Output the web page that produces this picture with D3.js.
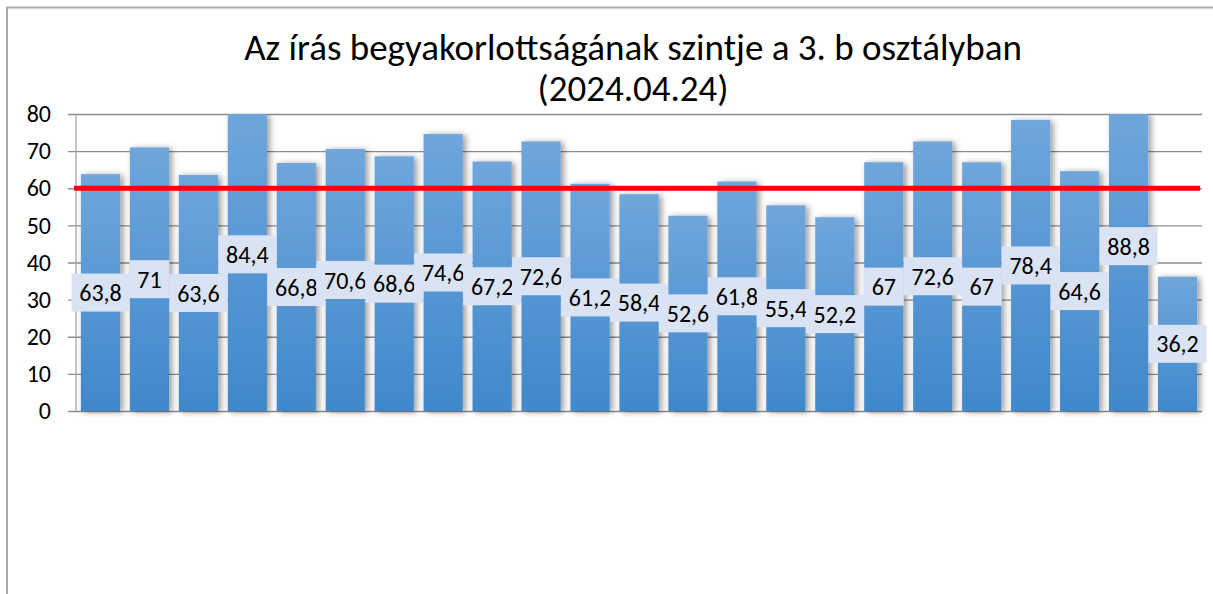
<!DOCTYPE html>
<html lang="hu">
<head>
<meta charset="UTF-8">
<title>Az írás begyakorlottságának szintje</title>
<style>
    body { margin: 0; background: #fff; font-family: Carlito, "Open Sans", "Liberation Sans", sans-serif; }
    svg { display: block; }
</style>
<script src="https://d3js.org/d3.v7.min.js"></script>
</head>
<body>
<svg width="1213" height="594"></svg>
<script>
    const students = d3.range(1, 24).map(String);
    const scores = [63.8, 71, 63.6, 84.4, 66.8, 70.6, 68.6, 74.6, 67.2, 72.6, 61.2, 58.4,
                    52.6, 61.8, 55.4, 52.2, 67, 72.6, 67, 78.4, 64.6, 88.8, 36.2];
    const yTicks = [0, 10, 20, 30, 40, 50, 60, 70, 80];
    const threshold = 60;
    const titleLines = ["Az írás begyakorlottságának szintje a 3. b osztályban", "(2024.04.24)"];

    const svg = d3.select("svg");
    const margin = {left: 76, right: 1202, top: 114, bottom: 411};

    // chart frame (only top and left edges are visible in the crop)
    svg.append("path")
        .attr("d", "M7,600 V7.5 H1213")
        .attr("fill", "none").attr("stroke", "#ababab").attr("stroke-width", 2);

    const defs = svg.append("defs");
    const grad = defs.append("linearGradient")
        .attr("id", "barGrad").attr("x1", 0).attr("y1", 0).attr("x2", 0).attr("y2", 1);
    grad.append("stop").attr("offset", "0%").attr("stop-color", "#6fa6dc");
    grad.append("stop").attr("offset", "100%").attr("stop-color", "#3f88cb");

    const shadow = defs.append("filter").attr("id", "shadow")
        .attr("x", "-30%").attr("y", "-10%").attr("width", "160%").attr("height", "120%");
    shadow.append("feDropShadow")
        .attr("dx", 3).attr("dy", 1).attr("stdDeviation", 3)
        .attr("flood-color", "#000").attr("flood-opacity", 0.4);

    const clip = defs.append("clipPath").attr("id", "plotClip");
    clip.append("rect")
        .attr("x", margin.left).attr("y", margin.top)
        .attr("width", margin.right - margin.left + 10)
        .attr("height", margin.bottom - margin.top + 6);

    const x = d3.scaleBand()
        .domain(students)
        .range([margin.left, margin.right])
        .paddingInner(0.2).paddingOuter(0.1);

    const y = d3.scaleLinear().domain([0, 80]).range([margin.bottom, margin.top]);

    // gridlines + y labels
    const yAxis = svg.append("g")
        .attr("transform", `translate(${margin.left},0)`)
        .call(d3.axisLeft(y).tickValues(yTicks).tickSize(-(margin.right - margin.left)).tickPadding(25)
            .tickFormat(d3.format("d")));
    yAxis.select(".domain").remove();
    yAxis.selectAll(".tick line").attr("stroke", "#8c8c8c").attr("stroke-width", 1.3).attr("x1", -8);
    yAxis.selectAll(".tick text")
        .attr("font-size", 24).attr("fill", "#000")
        .attr("font-family", "Carlito, 'Open Sans', 'Liberation Sans', sans-serif");

    svg.append("line")
        .attr("x1", margin.left).attr("x2", margin.left)
        .attr("y1", margin.top).attr("y2", margin.bottom)
        .attr("stroke", "#a6a6a6").attr("stroke-width", 1.3);

    // bars
    svg.append("g").attr("clip-path", "url(#plotClip)")
        .selectAll("rect")
        .data(scores)
        .join("rect")
        .attr("x", (d, i) => x(students[i]))
        .attr("y", d => y(Math.min(d, 80)))
        .attr("width", x.bandwidth())
        .attr("height", d => y(0) - y(Math.min(d, 80)))
        .attr("fill", "url(#barGrad)")
        .attr("filter", "url(#shadow)");

    // threshold line
    svg.append("line")
        .attr("x1", margin.left - 2).attr("x2", margin.right - 2)
        .attr("y1", y(threshold)).attr("y2", y(threshold))
        .attr("stroke", "#ff0000").attr("stroke-width", 5);

    // value labels
    const fmt = v => String(v).replace(".", ",");
    const labels = svg.append("g")
        .selectAll("g")
        .data(scores)
        .join("g")
        .attr("transform", (d, i) => `translate(${x(students[i]) + x.bandwidth() / 2},${y(d / 2)})`);

    labels.append("rect")
        .attr("x", d => fmt(d).length > 2 ? -29 : -20)
        .attr("y", -19)
        .attr("width", d => fmt(d).length > 2 ? 58 : 40)
        .attr("height", 38)
        .attr("fill", "#dae3f3");

    labels.append("text")
        .attr("text-anchor", "middle")
        .attr("dy", "0.36em")
        .attr("font-size", 24)
        .attr("fill", "#000")
        .text(fmt);

    // title
    svg.append("g")
        .selectAll("text")
        .data(titleLines)
        .join("text")
        .attr("x", 633)
        .attr("y", (d, i) => 60 + i * 41)
        .attr("text-anchor", "middle")
        .attr("font-size", 37)
        .attr("fill", "#000")
        .text(d => d);
</script>
</body>
</html>
